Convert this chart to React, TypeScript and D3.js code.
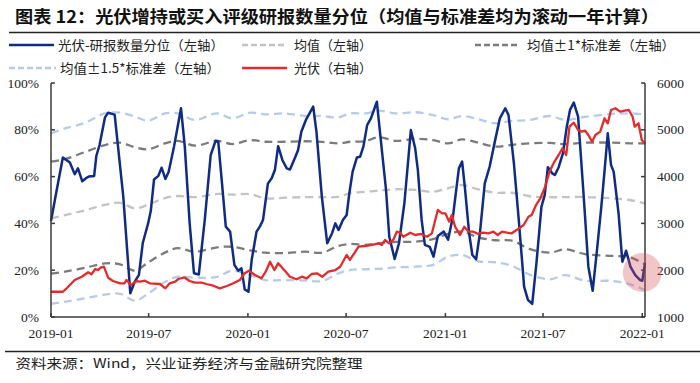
import React from 'react';
import * as d3 from 'd3';

// ---------- DATA ----------
const blueDates = [
  '2019-01-01','2019-01-11','2019-01-23','2019-02-05','2019-02-14','2019-02-20','2019-02-28','2019-03-08','2019-03-12','2019-03-22',
  '2019-03-26','2019-04-01','2019-04-11','2019-04-17','2019-04-29','2019-05-15','2019-05-28','2019-06-05','2019-06-13','2019-06-20',
  '2019-06-30','2019-07-05','2019-07-11','2019-07-19','2019-07-25','2019-08-01','2019-08-07','2019-08-17','2019-08-30','2019-09-06',
  '2019-09-15','2019-09-23','2019-10-02','2019-10-13','2019-10-24','2019-11-02','2019-11-07','2019-11-14','2019-11-21','2019-11-29',
  '2019-12-07','2019-12-14','2019-12-20','2019-12-26','2020-01-02','2020-01-08','2020-01-17','2020-01-23','2020-01-29','2020-02-07',
  '2020-02-14','2020-02-20','2020-02-26','2020-03-05','2020-03-13','2020-03-19','2020-03-29','2020-04-03','2020-04-09','2020-04-18',
  '2020-05-01','2020-05-07','2020-05-17','2020-05-27','2020-06-05','2020-06-11','2020-06-17','2020-06-25','2020-07-02','2020-07-07',
  '2020-07-13','2020-07-21','2020-07-27','2020-08-02','2020-08-09','2020-08-16','2020-08-27','2020-09-02','2020-09-13','2020-09-19',
  '2020-09-29','2020-10-07','2020-10-17','2020-10-29','2020-11-06','2020-11-11','2020-11-18','2020-11-24','2020-12-03','2020-12-10',
  '2020-12-18','2020-12-29','2021-01-06','2021-01-15','2021-01-26','2021-02-01','2021-02-06','2021-02-14','2021-02-20','2021-02-27',
  '2021-03-06','2021-03-15','2021-03-24','2021-04-02','2021-04-12','2021-04-22','2021-04-28','2021-05-08','2021-05-17','2021-05-27',
  '2021-06-03','2021-06-11','2021-06-19','2021-06-28','2021-07-04','2021-07-10','2021-07-18','2021-07-23','2021-07-30','2021-08-07',
  '2021-08-14','2021-08-20','2021-08-27','2021-09-04','2021-09-14','2021-09-23','2021-10-01','2021-10-09','2021-10-17','2021-10-24',
  '2021-10-29','2021-11-04','2021-11-09','2021-11-18','2021-11-25','2021-12-02','2021-12-10','2021-12-19','2021-12-28','2022-01-01',
  '2022-01-06'
];
const blueValues = [
  41, 53.5, 68.2, 66, 61, 63.5, 58, 59.5, 60, 60.3,
  68.8, 73.5, 85.3, 87.3, 86.5, 51.4, 10.1, 15, 18, 31.5,
  40, 45.4, 58.8, 60.3, 63.8, 59, 62, 72.8, 89.2, 72.8,
  40, 18.7, 18.2, 41.5, 69.2, 75.3, 75, 57, 38.6, 36.5,
  22.2, 19.8, 20.8, 11.8, 10.8, 24.4, 36.5, 38.6, 41.5, 57,
  59.3, 62.8, 73, 67, 63.5, 63, 68.5, 71.4, 79.2, 84.5,
  89.9, 79.2, 51.4, 31.5, 35.8, 40, 37.2, 41.5, 43.6, 52.9,
  62, 68.2, 68.5, 72.8, 82, 84.9, 92, 78.5, 54.3, 34.3,
  24.8, 31.5, 48.6, 79.9, 72.1, 62.8, 41.5, 30.8, 30, 25.8,
  34.6, 36.5, 33, 42.9, 63.5, 66.4, 55.7, 35.8, 26.5, 24.7,
  35.8, 57.1, 64.2, 74.2, 84.9, 89.2, 86.3, 65.7, 41.5, 12.9,
  7.3, 5.6, 23.6, 47.1, 52, 64, 61.4, 60.7, 64, 70,
  81.3, 88.5, 91.6, 85.6, 52.9, 21.5, 11.2, 28.6, 47.1, 65,
  78.5, 65, 62, 44.3, 23.6, 28.3, 21.5, 17.9, 15.8, 15.5,
  23
];

const redDates = [
  '2019-01-01','2019-01-23','2019-01-30','2019-02-14','2019-02-27','2019-03-11','2019-03-17','2019-03-24','2019-03-29','2019-04-03',
  '2019-04-09','2019-04-17','2019-04-26','2019-05-09','2019-05-17','2019-05-21','2019-05-29','2019-06-09','2019-06-15','2019-06-24',
  '2019-07-03','2019-07-22','2019-08-01','2019-08-09','2019-08-19','2019-08-25','2019-09-05','2019-09-15','2019-09-25','2019-10-07',
  '2019-10-16','2019-10-29','2019-11-10','2019-11-23','2019-12-05','2019-12-17','2019-12-26','2020-01-03','2020-01-14','2020-01-26',
  '2020-02-03','2020-02-11','2020-02-19','2020-02-26','2020-03-07','2020-03-19','2020-03-31','2020-04-10','2020-04-19','2020-04-28',
  '2020-05-08','2020-05-18','2020-05-29','2020-06-11','2020-06-20','2020-07-02','2020-07-08','2020-07-16','2020-07-24','2020-08-05',
  '2020-08-18','2020-08-30','2020-09-05','2020-09-11','2020-09-19','2020-09-27','2020-10-03','2020-10-09','2020-10-15','2020-10-28',
  '2020-11-06','2020-11-17','2020-11-28','2020-12-07','2020-12-18','2020-12-26','2021-01-01','2021-01-08','2021-01-13','2021-01-19',
  '2021-01-28','2021-02-05','2021-02-13','2021-02-22','2021-03-03','2021-03-12','2021-03-22','2021-03-31','2021-04-08','2021-04-16',
  '2021-04-25','2021-05-04','2021-05-15','2021-05-26','2021-06-04','2021-06-10','2021-06-18','2021-06-26','2021-07-05','2021-07-13',
  '2021-07-21','2021-07-30','2021-08-06','2021-08-13','2021-08-19','2021-08-27','2021-09-04','2021-09-11','2021-09-17','2021-09-23',
  '2021-09-30','2021-10-06','2021-10-15','2021-10-23','2021-10-29','2021-11-04','2021-11-12','2021-11-21','2021-11-29','2021-12-07',
  '2021-12-14','2021-12-18','2021-12-25','2021-12-31','2022-01-06'
];
const redValues = [
  1540, 1540, 1613, 1791, 1861, 1955, 1912, 2026, 2004, 2054,
  2075, 1840, 1769, 1720, 1720, 1791, 1684, 1769, 1755, 1776,
  1720, 1705, 1613, 1720, 1755, 1812, 1848, 1769, 1733, 1733,
  1705, 1669, 1613, 1662, 1720, 1791, 1934, 1990, 1898, 1827,
  1968, 2182, 2004, 2147, 2019, 1861, 1806, 1861, 1827, 1919,
  1934, 1861, 1968, 2004, 2075, 2325, 2218, 2361, 2502, 2517,
  2539, 2575, 2539, 2645, 2575, 2660, 2823, 2801, 2716, 2801,
  2752, 2774, 2716, 2788, 3287, 3216, 3216, 3037, 3180, 2930,
  2752, 2930, 2823, 2823, 2774, 2801, 2788, 2823, 2752, 2823,
  2801, 2788, 2874, 2966, 3143, 3180, 3393, 3536, 3785, 4105,
  4298, 4462, 4605, 4462, 5067, 5152, 4996, 4960, 4981, 4889,
  4746, 4889, 4960, 5246, 5139, 5424, 5460, 5388, 5409, 5424,
  5280, 5067, 5139, 4782, 4700
];

const bandDates = [
  '2019-01-01','2019-01-27','2019-03-05','2019-04-11','2019-05-09','2019-06-06','2019-06-30','2019-07-31','2019-08-24','2019-09-25',
  '2019-11-05','2019-12-03','2020-01-05','2020-02-02','2020-03-10','2020-04-16','2020-05-18','2020-06-16','2020-07-09','2020-08-06',
  '2020-08-30','2020-10-01','2020-11-07','2020-12-09','2021-01-06','2021-02-01','2021-03-03','2021-04-03','2021-05-05','2021-06-07',
  '2021-07-14','2021-08-11','2021-09-17','2021-11-06','2021-12-09','2022-01-06'
];
const upper15Values = [
  78.5, 80.6, 83, 87, 87.3, 85.6, 83.9, 87, 87, 84.2,
  87, 84.9, 87.3, 86.6, 87, 85.9, 85.9, 85.3, 87, 87,
  88.2, 87, 87.5, 86.3, 84.5, 85.9, 84.5, 82.8, 83.8, 84.2,
  85.9, 84.2, 85.5, 86.8, 87, 86.6
];
const upper1Values = [
  66.4, 67.5, 70.5, 73.5, 74.5, 72.5, 71.7, 74.2, 75.3, 73.2,
  75.3, 73.9, 75.6, 74.9, 74.9, 75.1, 74.8, 74.2, 74.9, 75.2,
  76.8, 75.3, 76.1, 75.6, 74.2, 75.9, 74.5, 72.8, 73.6, 74.2,
  74.4, 73.9, 74.5, 74.5, 74.2, 74.2
];
const meanValues = [
  42.2, 43.5, 45.6, 47.9, 48.8, 46.4, 48, 50.8, 51.7, 51.2,
  52.6, 52.3, 52.5, 50.7, 51, 51.2, 51.2, 51.3, 52.9, 53.5,
  54, 54.6, 54.3, 53.5, 55, 56.4, 54.5, 53.1, 53.1, 51.6,
  51.2, 51.2, 51.3, 50.7, 50, 48.6
];
const lower1Values = [
  18.5, 19.4, 21, 22.9, 22.5, 19.8, 23.3, 27.5, 29.4, 27.9,
  29.8, 30, 28.5, 27.5, 27.3, 27.9, 27.5, 30.3, 31.2, 30.8,
  31.5, 32.1, 32.2, 33.3, 35.5, 36.5, 34, 32.8, 32.6, 29,
  27.5, 28.9, 26.9, 26.1, 25.5, 22.5
];
const lower15Values = [
  5.6, 6.5, 8, 9.6, 9.9, 7, 10, 15, 17.2, 16.8,
  17.2, 19.8, 17.9, 15.8, 15.8, 15.6, 15.4, 18.6, 20.1, 20.4,
  20.6, 21.2, 21.5, 22.3, 25.8, 26.5, 23.8, 23.4, 21.8, 18,
  16.1, 17.9, 15.5, 15.4, 14, 11.5
];

const leftTicks = [0, 20, 40, 60, 80, 100];
const rightTicks = [1000, 2000, 3000, 4000, 5000, 6000];
const xTickLabels = ['2019-01', '2019-07', '2020-01', '2020-07', '2021-01', '2021-07', '2022-01'];
const xDomain = ['2019-01-01', '2022-01-06'];
const highlightDate = '2022-01-01';
const highlightValue = 19;

const titleText = '图表 12：光伏增持或买入评级研报数量分位（均值与标准差均为滚动一年计算）';
const sourceText = '资料来源：Wind，兴业证券经济与金融研究院整理';
const legendLabels = ['光伏-研报数量分位（左轴）', '均值（左轴）', '均值±1*标准差（左轴）', '均值±1.5*标准差（左轴）', '光伏（右轴）'];

// ---------- STYLE ----------
const W = 700, H = 383;
const PL = 51, PR = 645, PT = 83, PB = 317;
const BLUE = '#102b86';
const RED = '#e42b2b';
const MEANC = '#c3c3c3';
const SD1C = '#7b7b7b';
const SD15C = '#b7cbe8';
const AXIS = '#3a3a3a';
const SERIF = '"Liberation Serif", "Times New Roman", serif';
const CJK = '"Noto Sans CJK SC", "Noto Sans", sans-serif';

const parse = d3.timeParse('%Y-%m-%d');
const parseM = d3.timeParse('%Y-%m');

export default function App() {
  const x = d3.scaleTime().domain(xDomain.map((d) => parse(d) as Date)).range([PL, PR]);
  const yL = d3.scaleLinear().domain([0, 100]).range([PB, PT]);
  const yR = d3.scaleLinear().domain([1000, 6000]).range([PB, PT]);

  const lineL = d3.line<[Date, number]>().x((d) => x(d[0])).y((d) => yL(d[1]));
  const lineR = d3.line<[Date, number]>().x((d) => x(d[0])).y((d) => yR(d[1]));
  const bandLine = d3
    .line<[Date, number]>()
    .x((d) => x(d[0]))
    .y((d) => yL(d[1]))
    .curve(d3.curveCatmullRom.alpha(0.5));

  const zip = (dates: string[], vals: number[]) =>
    dates.map((d, i) => [parse(d) as Date, vals[i]] as [Date, number]);

  const blue = zip(blueDates, blueValues);
  const red = zip(redDates, redValues);
  const bands = [
    { vals: upper15Values, color: SD15C },
    { vals: lower15Values, color: SD15C },
    { vals: upper1Values, color: SD1C },
    { vals: lower1Values, color: SD1C },
    { vals: meanValues, color: MEANC },
  ];

  const xTicks = xTickLabels.map((l) => ({ l, d: parseM(l) as Date }));

  return (
    <svg
      width={W}
      height={H}
      viewBox={`0 0 ${W} ${H}`}
      style={{ position: 'absolute', left: 0, top: 0, background: '#fff' }}
    >
      <rect x={0} y={0} width={W} height={H} fill="#fff" />
      {/* Title */}
      <text
        x={15}
        y={23}
        fontFamily={CJK}
        fontWeight={700}
        fontSize={17}
        fill="#111"
        textLength={644}
        lengthAdjust="spacingAndGlyphs"
      >
        {titleText}
      </text>
      <line x1={9} x2={700} y1={32.5} y2={32.5} stroke="#222" strokeWidth={1.6} />

      {/* Legend */}
      <g fontFamily={CJK} fontSize={13} fill="#222">
        <line x1={9} x2={54} y1={45} y2={45} stroke={BLUE} strokeWidth={2.6} />
        <text x={58} y={49.5} textLength={166} lengthAdjust="spacingAndGlyphs">{legendLabels[0]}</text>
        <line x1={242} x2={287} y1={45} y2={45} stroke={MEANC} strokeWidth={2.4} strokeDasharray="6,3" />
        <text x={294} y={49.5} textLength={78} lengthAdjust="spacingAndGlyphs">{legendLabels[1]}</text>
        <line x1={475} x2={520} y1={45} y2={45} stroke={SD1C} strokeWidth={2.4} strokeDasharray="6,3" />
        <text x={527} y={49.5} textLength={148} lengthAdjust="spacingAndGlyphs">{legendLabels[2]}</text>
        <line x1={9} x2={56} y1={68} y2={68} stroke={SD15C} strokeWidth={2.4} strokeDasharray="6,3" />
        <text x={60} y={72.5} textLength={160} lengthAdjust="spacingAndGlyphs">{legendLabels[3]}</text>
        <line x1={242} x2={287} y1={68} y2={68} stroke={RED} strokeWidth={2.6} />
        <text x={294} y={72.5} textLength={78} lengthAdjust="spacingAndGlyphs">{legendLabels[4]}</text>
      </g>

      {/* Bands */}
      {bands.map((b, i) => (
        <path
          key={i}
          d={bandLine(zip(bandDates, b.vals)) || ''}
          fill="none"
          stroke={b.color}
          strokeWidth={2.3}
          strokeDasharray="8,5"
        />
      ))}

      {/* Blue series */}
      <path d={lineL(blue) || ''} fill="none" stroke={BLUE} strokeWidth={2.5} strokeLinejoin="round" />
      {/* Red series */}
      <path d={lineR(red) || ''} fill="none" stroke={RED} strokeWidth={2.3} strokeLinejoin="round" />

      {/* Axes */}
      <g stroke={AXIS} strokeWidth={1.5}>
        <line x1={PL} x2={PL} y1={PT} y2={PB} />
        <line x1={PR} x2={PR} y1={PT} y2={PB} />
        <line x1={PL} x2={PR} y1={PB} y2={PB} />
        {leftTicks.map((t) => (
          <line key={'lt' + t} x1={PL} x2={PL + 4} y1={yL(t)} y2={yL(t)} />
        ))}
        {rightTicks.map((t) => (
          <line key={'rt' + t} x1={PR - 4} x2={PR} y1={yR(t)} y2={yR(t)} />
        ))}
        {xTicks.map((t) => (
          <line key={'xt' + t.l} x1={x(t.d)} x2={x(t.d)} y1={PB} y2={PB - 4} />
        ))}
      </g>
      <g fontFamily={SERIF} fontSize={13.5} fill="#222">
        {leftTicks.map((t) => (
          <text key={'ll' + t} x={39} y={yL(t) + 4.5} textAnchor="end">
            {t + '%'}
          </text>
        ))}
        {rightTicks.map((t) => (
          <text key={'rl' + t} x={657} y={yR(t) + 4.5} textAnchor="start">
            {t}
          </text>
        ))}
        {xTicks.map((t) => (
          <text key={'xl' + t.l} x={x(t.d)} y={338} textAnchor="middle">
            {t.l}
          </text>
        ))}
      </g>

      {/* Highlight circle */}
      <circle
        cx={x(parse(highlightDate) as Date)}
        cy={yL(highlightValue)}
        r={19.5}
        fill="#d94e5c"
        opacity={0.33}
      />

      {/* Footer */}
      <line x1={5} x2={700} y1={351.5} y2={351.5} stroke="#222" strokeWidth={1.5} />
      <text
        x={15.5}
        y={368}
        fontFamily={CJK}
        fontSize={13}
        fill="#222"
        textLength={347}
        lengthAdjust="spacingAndGlyphs"
      >
        {sourceText}
      </text>
    </svg>
  );
}
